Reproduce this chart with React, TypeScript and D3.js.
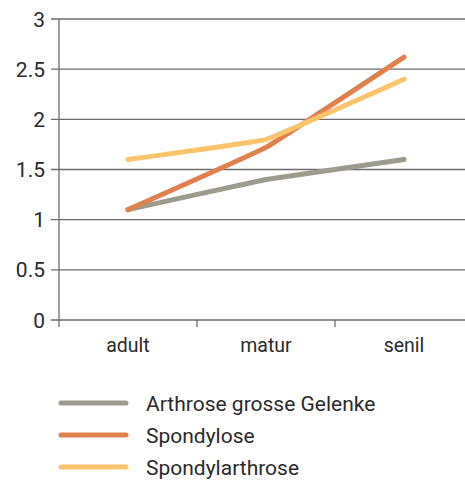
import React from 'react';
import * as d3 from 'd3';

const categories = ['adult', 'matur', 'senil'];
const yTicks = [0, 0.5, 1, 1.5, 2, 2.5, 3];
const seriesNames = ['Arthrose grosse Gelenke', 'Spondylose', 'Spondylarthrose'];
const arthroseValues = [1.1, 1.4, 1.6];
const spondyloseValues = [1.1, 1.72, 2.62];
const spondylarthroseValues = [1.6, 1.8, 2.4];
const seriesColors = ['#9c9b8e', '#e0804c', '#fac46c'];

const width = 465;
const height = 481;
const left = 59;
const top = 19;
const plotBottom = 320;
const step = 138;

const App: React.FC = () => {
  const x = d3
    .scaleBand<string>()
    .domain(categories)
    .range([left, left + step * categories.length])
    .paddingInner(0)
    .paddingOuter(0);
  const y = d3.scaleLinear().domain([0, 3]).range([plotBottom, top]);

  const line = d3
    .line<number>()
    .x((_, i) => (x(categories[i]) as number) + x.bandwidth() / 2)
    .y((d) => y(d))
    .curve(d3.curveCardinal.tension(0.8));

  const allSeries = [arthroseValues, spondyloseValues, spondylarthroseValues];
  const font = 'Roboto, "Liberation Sans", sans-serif';

  return (
    <svg
      width={width}
      height={height}
      style={{ position: 'absolute', left: 0, top: 0, background: '#fff' }}
      fontFamily={font}
    >
      {/* grid lines + y ticks */}
      {yTicks.map((t) => (
        <g key={t}>
          <line x1={left - 8} x2={width} y1={y(t)} y2={y(t)} stroke="#6b6b6b" strokeWidth={1.3} />
          <text x={left - 14} y={y(t)} dy="0.36em" textAnchor="end" fontSize={21} fill="#2a2a2a">
            {t}
          </text>
        </g>
      ))}
      {/* y axis */}
      <line x1={left} x2={left} y1={top} y2={plotBottom + 7} stroke="#6b6b6b" strokeWidth={1.3} />
      {/* x ticks */}
      {categories.slice(1).map((c) => (
        <line
          key={c}
          x1={x(c) as number}
          x2={x(c) as number}
          y1={plotBottom}
          y2={plotBottom + 7}
          stroke="#6b6b6b"
          strokeWidth={1.3}
        />
      ))}
      {categories.map((c) => (
        <text
          key={c}
          x={(x(c) as number) + x.bandwidth() / 2}
          y={plotBottom + 32}
          textAnchor="middle"
          fontSize={19.5}
          fill="#2a2a2a"
        >
          {c}
        </text>
      ))}
      {/* series */}
      {allSeries.map((s, i) => (
        <path
          key={i}
          d={line(s) as string}
          fill="none"
          stroke={seriesColors[i]}
          strokeWidth={5}
          strokeLinecap="round"
          strokeLinejoin="round"
        />
      ))}
      {/* legend */}
      {seriesNames.map((n, i) => (
        <g key={n} transform={`translate(0, ${403 + i * 32})`}>
          <line x1={61} x2={126} y1={0} y2={0} stroke={seriesColors[i]} strokeWidth={5} strokeLinecap="round" />
          <text x={146} y={0} dy="0.36em" fontSize={21} fill="#2a2a2a">
            {n}
          </text>
        </g>
      ))}
    </svg>
  );
};

export default App;
